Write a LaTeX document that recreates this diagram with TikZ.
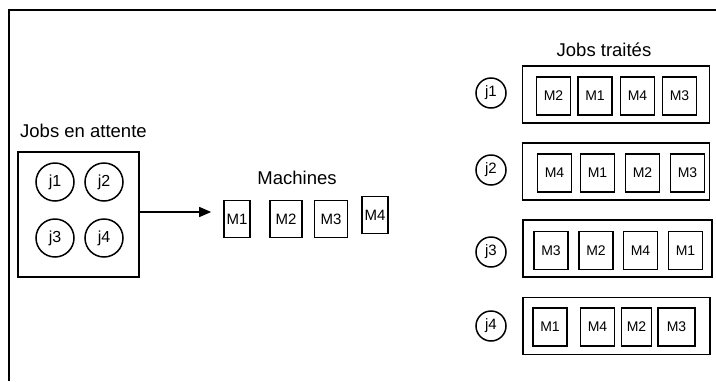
\documentclass[tikz,border=0pt]{standalone}
\usepackage{fontspec}
\setmainfont{Liberation Sans}
\usetikzlibrary{arrows.meta}
\begin{document}
\begin{tikzpicture}[x=1pt,y=-1pt,
  lbl/.style={font=\fontsize{18.5}{20}\selectfont, inner sep=0pt},
  job/.style={draw, circle, line width=1.5pt, minimum size=38pt, inner sep=0pt, font=\fontsize{16}{18}\selectfont},
  jobr/.style={draw, circle, line width=1.5pt, minimum size=30pt, inner sep=0pt, font=\fontsize{15}{17}\selectfont},
  mach/.style={draw, line width=1.7pt, minimum width=26pt, minimum height=37pt, inner sep=0pt, font=\fontsize{15}{17}\selectfont},
  machr/.style={draw, line width=1.7pt, minimum width=34pt, minimum height=38pt, inner sep=0pt, font=\fontsize{14}{16}\selectfont},
  row/.style={draw, line width=1.5pt, minimum width=187pt, minimum height=57pt, inner sep=0pt},
  frame/.style={line width=1.6pt}]
\useasboundingbox (0,0) rectangle (716,381);
% frame
\coordinate (ftl) at (9,10);
\coordinate (ftr) at (716,10);
\coordinate (fbl) at (9,381);
\draw[frame] (fbl) -- (ftl) -- (ftr);
% left: waiting jobs
\node[lbl, anchor=west] (tw) at (20,131) {Jobs en attente};
\node[draw, line width=1.6pt, minimum width=121pt, minimum height=125pt, inner sep=0pt] (wait) at (78.5,214.5) {};
\node[job] (wj1) at (55,182) {j1};
\node[job] (wj2) at (104,182) {j2};
\node[job] (wj3) at (55,238) {j3};
\node[job] (wj4) at (104,238) {j4};
% machines
\node[lbl] (tm) at (297,178) {Machines};
\node[mach] (m1) at (237,219) {M1};
\node[mach, minimum width=32pt] (m2) at (286,219) {M2};
\node[mach, minimum width=33pt] (m3) at (331,219) {M3};
\node[mach] (m4) at (375,215) {M4};
\draw[line width=1.6pt, -{Triangle[length=12pt,width=10pt]}, shorten >=12pt] ([yshift=2.5pt]wait.east) -- ([yshift=2.5pt]wait.east -| m1.west);
% right: processed jobs
\node[lbl] (tt) at (604,50) {Jobs traités};
% row 1
\node[jobr] (r1) at (491,93) {j1};
\node[row] (b1) at (616,94.5) {};
\node[machr] (b1a) at (553.5,96) {M2};
\node[machr] (b1b) at (595,96) {M1};
\node[machr] (b1c) at (637.5,96) {M4};
\node[machr] (b1d) at (679.5,96) {M3};
% row 2
\node[jobr] (r2) at (491,170) {j2};
\node[row] (b2) at (616,171.5) {};
\node[machr] (b2a) at (554.5,173) {M4};
\node[machr] (b2b) at (597.5,173) {M1};
\node[machr] (b2c) at (642.5,173) {M2};
\node[machr] (b2d) at (687.5,173) {M3};
% row 3
\node[jobr] (r3) at (491,252) {j3};
\node[row, minimum width=189pt] (b3) at (617.5,248.5) {};
\node[machr] (b3a) at (551,250.5) {M3};
\node[machr] (b3b) at (596,250.5) {M2};
\node[machr] (b3c) at (640.5,250.5) {M4};
\node[machr] (b3d) at (685.5,250.5) {M1};
% row 4
\node[jobr] (r4) at (491,326) {j4};
\node[row] (b4) at (616.5,326) {};
\node[machr] (b4a) at (550,327) {M1};
\node[machr] (b4b) at (597.5,327) {M4};
\node[machr, minimum width=30pt] (b4c) at (636.5,327) {M2};
\node[machr, minimum width=37pt] (b4d) at (676.5,327) {M3};
\end{tikzpicture}
\end{document}
